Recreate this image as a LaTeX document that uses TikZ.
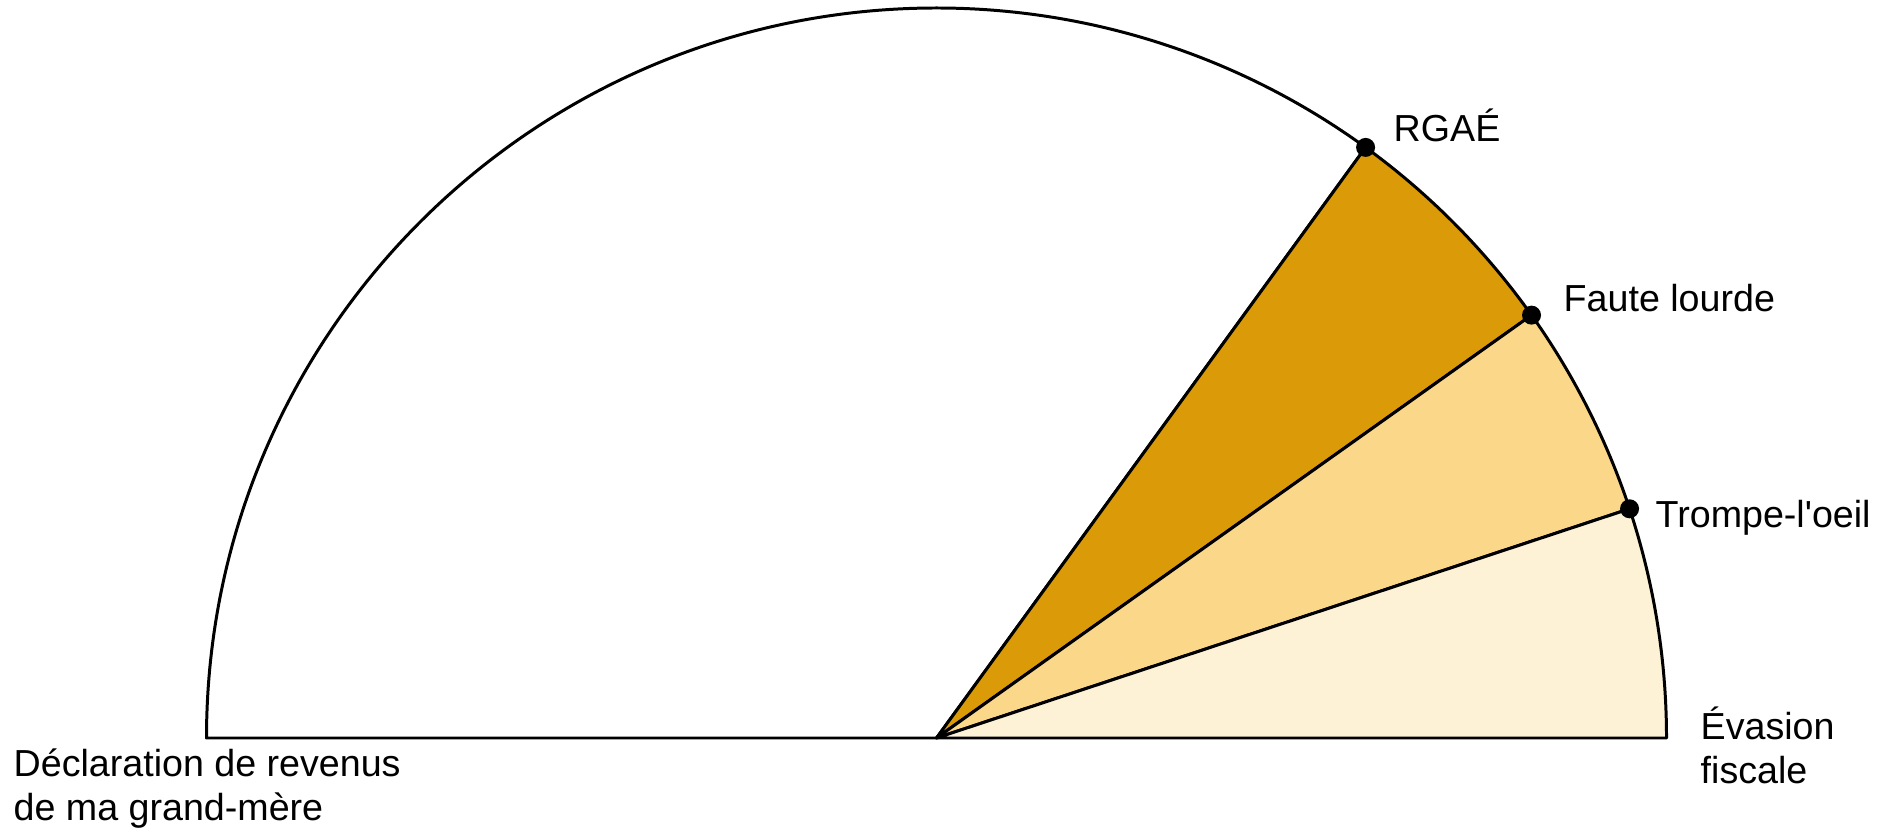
\documentclass[tikz,border=0pt]{standalone}
\usepackage{fontspec}
\setmainfont{Liberation Sans}
\usetikzlibrary{calc}

\definecolor{darkgold}{RGB}{219,154,8}
\definecolor{midgold}{RGB}{251,215,138}
\definecolor{palegold}{RGB}{253,241,214}

\begin{document}
\begin{tikzpicture}[
  x=0.01cm,
  y=0.01cm,
  font=\fontsize{10.7}{12.3}\selectfont,
  line/.style={draw=black,line width=0.85pt,line join=round},
  sector/.style={line},
  dot/.style={fill=black},
  lbl/.style={inner sep=0pt,align=left}
]
\useasboundingbox (0,0) rectangle (1885,830);

% ---------------------------------------------------------------- half disc
\def\rad{730}
\coordinate (o) at (936.5,92);

\draw[sector,fill=white]    (o) -- ++(180:\rad) arc (180:54:\rad) -- cycle;
\draw[sector,fill=darkgold] (o) -- ++(54:\rad) arc (54:35.4:\rad) -- cycle;
\draw[sector,fill=midgold]  (o) -- ++(35.4:\rad) arc (35.4:18.3:\rad) -- cycle;
\draw[sector,fill=palegold] (o) -- ++(18.3:\rad) arc (18.3:0:\rad) -- cycle;

% ---------------------------------------------------------------- markers on the rim
\coordinate (rgae)  at ($(o)+(54:\rad)$);
\coordinate (faute) at ($(o)+(35.4:\rad)$);
\coordinate (trompe) at ($(o)+(18.3:\rad)$);
\fill[dot] (rgae) circle[radius=9.5];
\fill[dot] (faute) circle[radius=9.5];
\fill[dot] (trompe) circle[radius=9.5];

% ---------------------------------------------------------------- labels
\node[lbl,anchor=base west] (lrgae)   at (1393,688) {RGAÉ};
\node[lbl,anchor=base west] (lfaute)  at (1563,518) {Faute lourde};
\node[lbl,anchor=base west] (ltrompe) at (1655,302) {Trompe-l\textquotesingle oeil};
% two-line labels: base is the last line
\node[lbl,anchor=base west] (levasion) at (1700,47) {Évasion\\fiscale};
\node[lbl,anchor=base west] (ldecl)   at (13,10) {Déclaration de revenus\\de ma grand-mère};

\end{tikzpicture}
\end{document}
